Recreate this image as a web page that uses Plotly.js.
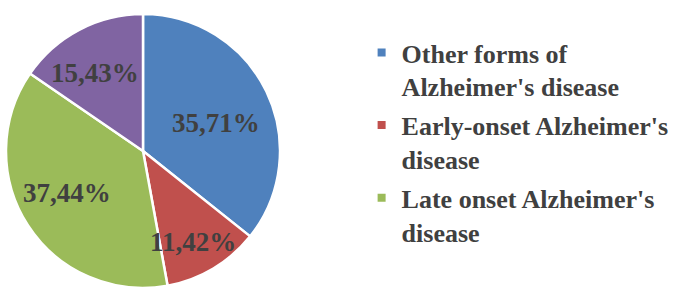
<!DOCTYPE html>
<html>
<head>
<meta charset="utf-8">
<script src="https://cdn.plot.ly/plotly-3.0.1.min.js"></script>
<style>html,body{margin:0;padding:0;background:#fff;}#chart{width:681px;height:291px;}</style>
</head>
<body>
<div id="chart"></div>
<script>
// Data
var categories = ["Other forms of Alzheimer's disease", "Early-onset Alzheimer's disease", "Late onset Alzheimer's disease", "Unlabelled"];
var legendLabels = ["Other forms of<br>Alzheimer's disease", "Early-onset Alzheimer's<br>disease", "Late onset Alzheimer's<br>disease"];
var values = [35.71, 11.42, 37.44, 15.43];
var colors = ["#4F81BD", "#C0504D", "#9BBB59", "#8064A2"];

// Layout constants (label placement inside slices)
var W = 681, H = 291;
var cx = 143, cy = 151, R = 137;
var labelFrac = [0.573, 0.75, 0.63, 0.675];
var labelAngleShift = [-4, -1.8, -4.6, 3.5];
var textColor = "#404040";
var serif = "Liberation Serif, Times New Roman, serif";

var total = values.reduce(function(a, b){ return a + b; }, 0);
var annotations = [];
var cum = 0;
values.forEach(function(v, i){
  var mid = 90 - (cum + v / 2) / total * 360 + labelAngleShift[i];
  cum += v;
  var a = mid * Math.PI / 180;
  var px = cx + R * labelFrac[i] * Math.cos(a);
  var py = cy - R * labelFrac[i] * Math.sin(a) + 1;
  annotations.push({
    x: px / W, y: 1 - py / H, xref: "paper", yref: "paper",
    text: "<b>" + v.toFixed(2).replace(".", ",") + "%</b>",
    showarrow: false, xanchor: "center", yanchor: "middle",
    font: {family: serif, size: 27, color: textColor}
  });
});

var traces = [{
  type: "pie",
  labels: categories,
  values: values,
  sort: false,
  direction: "clockwise",
  rotation: 0,
  textinfo: "none",
  hoverinfo: "label+value",
  showlegend: false,
  marker: {colors: colors, line: {color: "#ffffff", width: 2.5}},
  domain: {x: [(cx - R) / W, (cx + R) / W], y: [(H - cy - R) / H, (H - cy + R) / H]}
}];

legendLabels.forEach(function(lbl, i){
  traces.push({
    type: "scatter", mode: "markers", x: [null], y: [null],
    name: "<b>" + lbl + "</b>",
    legendgroup: "g" + i,
    marker: {symbol: "square", size: 8, color: colors[i]},
    showlegend: true, hoverinfo: "skip"
  });
});

var layout = {
  width: W, height: H,
  margin: {l: 0, r: 0, t: 0, b: 0},
  paper_bgcolor: "#ffffff", plot_bgcolor: "#ffffff",
  xaxis: {visible: false}, yaxis: {visible: false},
  showlegend: true,
  legend: {
    x: 0.531, y: 0.90, xanchor: "left", yanchor: "top",
    font: {family: serif, size: 26, color: textColor},
    valign: "top", traceorder: "grouped", tracegroupgap: 2,
    itemwidth: 30, bgcolor: "rgba(0,0,0,0)"
  },
  annotations: annotations
};

Plotly.newPlot("chart", traces, layout, {staticPlot: true, displayModeBar: false});
</script>
</body>
</html>
